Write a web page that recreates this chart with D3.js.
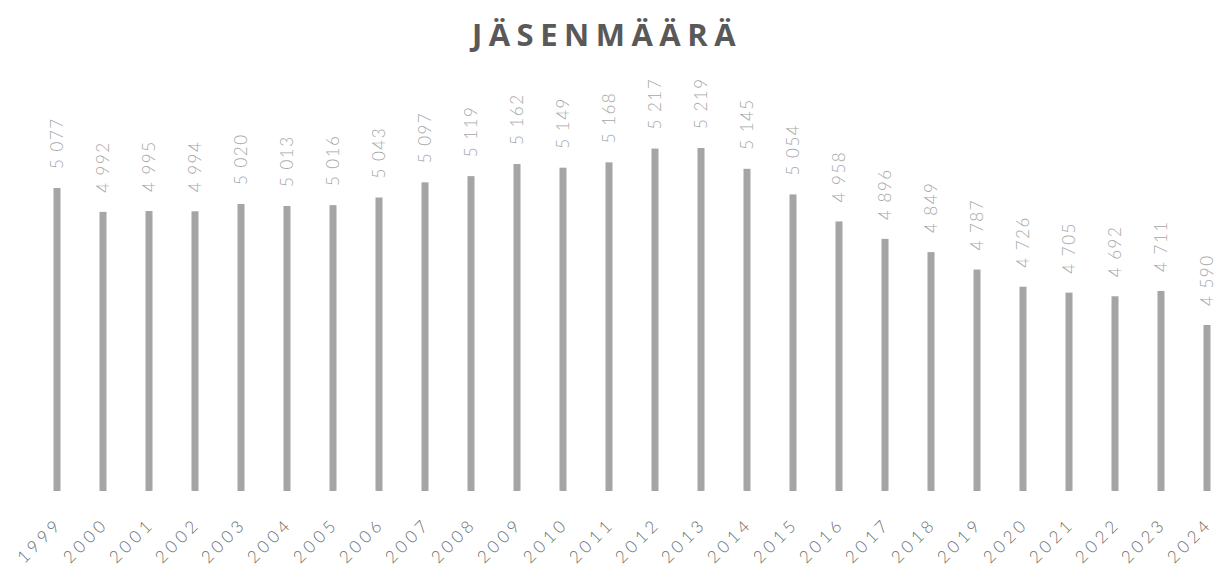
<!DOCTYPE html>
<html>
<head>
<meta charset="utf-8">
<script src="https://cdn.jsdelivr.net/npm/d3@7"></script>
<style>
  body { margin: 0; background: #fff; }
  svg { display: block; }
</style>
</head>
<body>
<svg id="chart" width="1215" height="567"></svg>
<script>
const years = ["1999","2000","2001","2002","2003","2004","2005","2006","2007","2008","2009","2010","2011","2012","2013","2014","2015","2016","2017","2018","2019","2020","2021","2022","2023","2024"];
const members = [5077,4992,4995,4994,5020,5013,5016,5043,5097,5119,5162,5149,5168,5217,5219,5145,5054,4958,4896,4849,4787,4726,4705,4692,4711,4590];

const svg = d3.select("#chart");

const x = d3.scalePoint()
  .domain(years)
  .range([57, 1207]);

const y = d3.scaleLinear()
  .domain([4000, 5219])
  .range([491, 148]);

const fmt = v => d3.format(",")(v).replace(",", " ");

// title
svg.append("text")
  .attr("x", 607)
  .attr("y", 46)
  .attr("text-anchor", "middle")
  .style("font-family", "'Open Sans', 'DejaVu Sans', sans-serif")
  .style("font-weight", "bold")
  .style("font-size", "31px")
  .style("letter-spacing", "6.5px")
  .attr("fill", "#595959")
  .text("JÄSENMÄÄRÄ");

const barW = 7;

svg.append("g")
  .selectAll("rect")
  .data(members)
  .join("rect")
  .attr("x", (d, i) => x(years[i]) - barW / 2)
  .attr("y", d => y(d))
  .attr("width", barW)
  .attr("height", d => y(4000) - y(d))
  .attr("fill", "#a5a5a5");

// value labels
svg.append("g")
  .selectAll("text")
  .data(members)
  .join("text")
  .attr("transform", (d, i) => `translate(${x(years[i]) + 6},${y(d) - 19}) rotate(-90)`)
  .attr("text-anchor", "start")
  .style("font-family", "Lato, 'Liberation Sans', sans-serif")
  .style("font-size", "17px")
  .style("font-weight", "300")
  .style("letter-spacing", "1.5px")
  .attr("fill", "#a8a8a8")
  .text(d => fmt(d));

// x axis labels
const xAxis = d3.axisBottom(x).tickSize(0).tickPadding(0);
const gx = svg.append("g")
  .attr("transform", `translate(0,${y(4000)})`)
  .call(xAxis);
gx.select(".domain").remove();
gx.selectAll("text")
  .attr("transform", "translate(6,34) rotate(-45)")
  .attr("y", 0)
  .attr("dy", "0")
  .attr("text-anchor", "end")
  .style("font-family", "Lato, 'Liberation Sans', sans-serif")
  .style("font-size", "17px")
  .style("font-weight", "300")
  .style("letter-spacing", "4px")
  .attr("fill", "#6e6e6e");
</script>
</body>
</html>
